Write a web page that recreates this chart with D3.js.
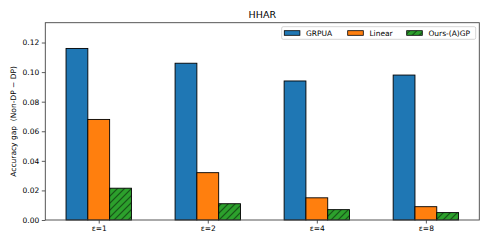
<!DOCTYPE html>
<html>
<head>
<meta charset="utf-8">
<script src="https://cdn.jsdelivr.net/npm/d3@7"></script>
<style>
  body { margin: 0; background: #fff; }
  text { font-family: "DejaVu Sans", sans-serif; fill: #000; }
</style>
</head>
<body>
<div id="plot"></div>
<script>
// chart data
const categories = ["ε=1", "ε=2", "ε=4", "ε=8"];
const seriesNames = ["GRPUA", "Linear", "Ours-(A)GP"];
const grpua  = [0.116, 0.106, 0.094, 0.098];
const linear = [0.068, 0.032, 0.015, 0.009];
const oursGP = [0.0215, 0.011, 0.007, 0.005];
const yTicks = [0.00, 0.02, 0.04, 0.06, 0.08, 0.10, 0.12];
const colors = ["#1f77b4", "#ff7f0e", "#2ca02c"];

const W = 488, H = 244;
const margin = { top: 22.7, right: 8.7, bottom: 24, left: 45.3 };
const width = W - margin.left - margin.right;
const height = H - margin.top - margin.bottom;

const svg = d3.select("#plot").append("svg")
  .attr("width", W)
  .attr("height", H);

// hatch for the last series
const defs = svg.append("defs");
const pat = defs.append("pattern")
  .attr("id", "hatch")
  .attr("patternUnits", "userSpaceOnUse")
  .attr("width", 7)
  .attr("height", 7);
pat.append("rect").attr("width", 7).attr("height", 7).attr("fill", colors[2]);
pat.append("path")
  .attr("d", "M-1,1 l2,-2 M0,7 l7,-7 M6,8 l2,-2")
  .attr("stroke", "#000")
  .attr("stroke-width", 0.8);

const g = svg.append("g")
  .attr("transform", "translate(" + margin.left + "," + margin.top + ")");

const x = d3.scalePoint().domain(categories).range([0, width]).padding(0.49);
const xSub = d3.scaleBand().domain(seriesNames).range([-32.7, 32.7]);
const y = d3.scaleLinear().domain([0, 0.1334]).range([height, 0]);

const series = [grpua, linear, oursGP];
series.forEach((vals, si) => {
  g.append("g").selectAll("rect")
    .data(vals)
    .join("rect")
    .attr("x", (d, i) => x(categories[i]) + xSub(seriesNames[si]))
    .attr("y", d => y(d))
    .attr("width", xSub.bandwidth())
    .attr("height", d => height - y(d))
    .attr("fill", si === 2 ? "url(#hatch)" : colors[si])
    .attr("stroke", "#000")
    .attr("stroke-width", 0.9);
});

// axes
const yAxis = g.append("g")
  .call(d3.axisLeft(y).tickValues(yTicks).tickFormat(d3.format(".2f")).tickSize(3.5).tickPadding(2.5));
const xAxis = g.append("g")
  .attr("transform", "translate(0," + height + ")")
  .call(d3.axisBottom(x).tickSize(3.5).tickPadding(2.5));
[yAxis, xAxis].forEach(a => {
  a.select(".domain").remove();
  a.selectAll("line").attr("stroke", "#333").attr("stroke-width", 0.8);
  a.selectAll("text").attr("font-size", 7.5).attr("font-family", "DejaVu Sans");
});

// frame
g.append("rect")
  .attr("width", width)
  .attr("height", height)
  .attr("fill", "none")
  .attr("stroke", "#444")
  .attr("stroke-width", 0.9);

// title + y label
svg.append("text")
  .attr("x", margin.left + width / 2)
  .attr("y", 17.5)
  .attr("text-anchor", "middle")
  .attr("font-size", 9.5)
  .text("HHAR");

svg.append("text")
  .attr("transform", "translate(15.5," + (margin.top + height / 2) + ") rotate(-90)")
  .attr("text-anchor", "middle")
  .attr("font-size", 7.5)
  .style("white-space", "pre")
  .text("Accuracy gap  (Non-DP \u2212 DP)");

// legend
const leg = svg.append("g").attr("transform", "translate(281.7,26.7)");
leg.append("rect")
  .attr("width", 194)
  .attr("height", 12.6)
  .attr("rx", 1.5)
  .attr("fill", "#fff")
  .attr("fill-opacity", 0.8)
  .attr("stroke", "#ccc")
  .attr("stroke-width", 0.8);
const legX = [2.6, 66, 125];
seriesNames.forEach((name, i) => {
  const e = leg.append("g").attr("transform", "translate(" + legX[i] + ",0)");
  e.append("rect")
    .attr("x", 0).attr("y", 4)
    .attr("width", 15.6).attr("height", 4.6)
    .attr("fill", i === 2 ? "url(#hatch)" : colors[i])
    .attr("stroke", "#000")
    .attr("stroke-width", 0.8);
  e.append("text")
    .attr("x", 21.7)
    .attr("y", 9.2)
    .attr("font-size", 7.5)
    .text(name);
});
</script>
</body>
</html>
